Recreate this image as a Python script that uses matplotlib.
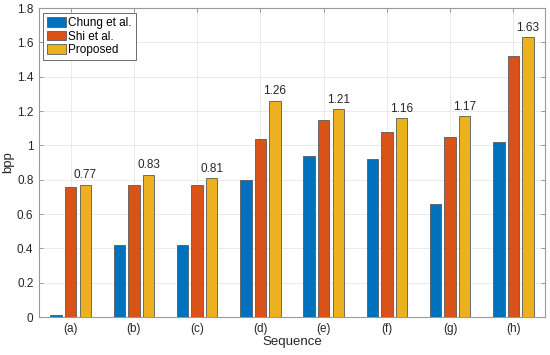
import numpy as np
import matplotlib.pyplot as plt

plt.rcParams['font.family'] = ['Liberation Sans', 'DejaVu Sans']

sequences = ["(a)", "(b)", "(c)", "(d)", "(e)", "(f)", "(g)", "(h)"]
chung = [0.01, 0.42, 0.42, 0.80, 0.94, 0.92, 0.66, 1.02]
shi = [0.76, 0.77, 0.77, 1.04, 1.15, 1.08, 1.05, 1.52]
proposed = [0.77, 0.83, 0.81, 1.26, 1.21, 1.16, 1.17, 1.63]

colors = ["#0072BD", "#D95319", "#EDB120"]
labels = ["Chung et al.", "Shi et al.", "Proposed"]

fig = plt.figure(figsize=(5.5, 3.55), dpi=100)
ax = fig.add_axes([0.071, 0.107, 0.92, 0.870])

x = np.arange(1, len(sequences) + 1)
w = 0.18
step = 0.23
for i, (vals, c, lab) in enumerate(zip([chung, shi, proposed], colors, labels)):
    ax.bar(x + (i - 1) * step, vals, width=w, color=c, edgecolor="#5a5a5a",
           linewidth=0.6, label=lab, zorder=3)

for xi, v in zip(x, proposed):
    ax.text(xi + step, v + 0.02, f"{v:.2f}", ha="center", va="bottom", fontsize=8.5, color="#262626")

ax.set_xlim(0.5, 8.5)
ax.set_ylim(0, 1.8)
ax.set_xticks(x)
ax.set_xticklabels(sequences)
ax.set_yticks(np.arange(0, 1.81, 0.2))
ax.set_yticklabels(["0", "0.2", "0.4", "0.6", "0.8", "1", "1.2", "1.4", "1.6", "1.8"])
ax.tick_params(direction="in", top=True, right=True, labelsize=8.5, labelcolor="#262626",
               color="#999999", length=3, width=0.7, pad=4)
ax.grid(True, color="#e6e6e6", linewidth=0.6, zorder=0)
for s in ax.spines.values():
    s.set_color("#999999")
    s.set_linewidth(0.8)
ax.set_xlabel("Sequence", fontsize=9.5, color="#262626")
ax.set_ylabel("bpp", fontsize=9.5, color="#262626")
ax.xaxis.set_label_coords(0.5, -0.062)
ax.yaxis.set_label_coords(-0.049, 0.5)

leg = ax.legend(loc="upper left", fontsize=8.5, fancybox=False, framealpha=1,
                edgecolor="#555555", handlelength=1.6, handleheight=0.9,
                borderpad=0.35, labelspacing=0.12, handletextpad=0.2,
                borderaxespad=0, bbox_to_anchor=(0.008, 0.984))
leg.get_frame().set_linewidth(0.6)

fig.savefig("out.png", dpi=100)
